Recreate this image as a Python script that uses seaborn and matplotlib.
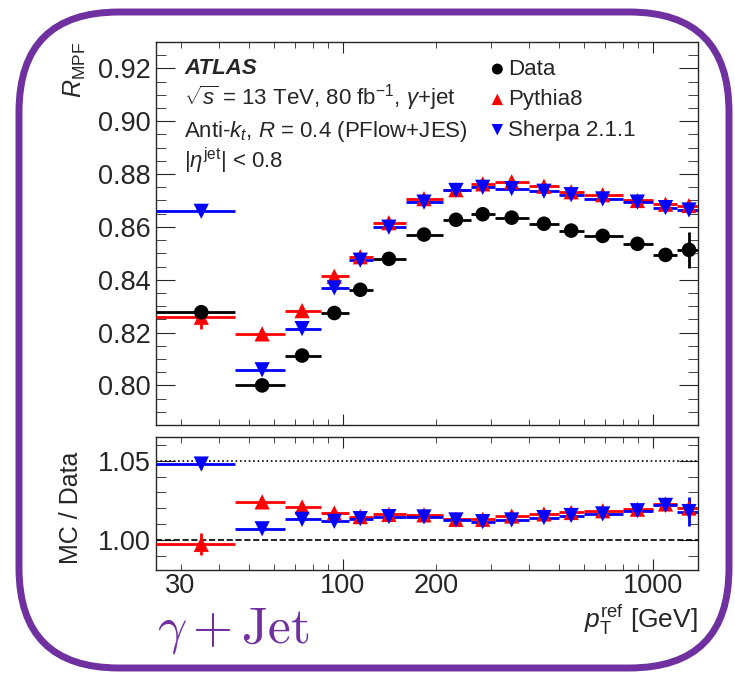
import numpy as np
import pandas as pd
import matplotlib
matplotlib.use("Agg")
import matplotlib.pyplot as plt
import seaborn as sns
from matplotlib.patches import FancyBboxPatch
from matplotlib.ticker import LogLocator, FuncFormatter, MultipleLocator, FormatStrFormatter

# p_T^ref bins [GeV]
bin_lo = [25, 45, 65, 85, 105, 125, 160, 210, 260, 310, 400, 500, 600, 800, 1000, 1200]
bin_hi = [45, 65, 85, 105, 125, 160, 210, 260, 310, 400, 500, 600, 800, 1000, 1200, 1400]
pt_center = [35, 55, 74, 94, 114, 141, 183, 232, 283, 351, 446, 546, 690, 893, 1100, 1310]

# R_MPF values
r_data = [0.8277, 0.8000, 0.8113, 0.8274, 0.8362, 0.8479, 0.8571, 0.8627,
          0.8648, 0.8635, 0.8612, 0.8586, 0.8566, 0.8536, 0.8494, 0.8513]
r_data_err = [0.0027, 0.0006, 0.0006, 0.0006, 0.0006, 0.0006, 0.0006, 0.0006,
              0.0006, 0.0006, 0.0006, 0.0006, 0.0008, 0.0010, 0.0015, 0.0067]
r_pythia = [0.8258, 0.8195, 0.8283, 0.8413, 0.8487, 0.8616, 0.8707, 0.8741,
            0.8763, 0.8771, 0.8754, 0.8733, 0.8722, 0.8700, 0.8686, 0.8681]
r_pythia_err = [0.0044, 0.0006, 0.0006, 0.0006, 0.0006, 0.0006, 0.0006, 0.0006,
                0.0008, 0.0008, 0.0008, 0.0008, 0.0008, 0.0008, 0.0010, 0.0012]
r_sherpa = [0.8659, 0.8059, 0.8215, 0.8369, 0.8474, 0.8599, 0.8694, 0.8738,
            0.8750, 0.8745, 0.8735, 0.8722, 0.8706, 0.8694, 0.8673, 0.8664]
r_sherpa_err = [0.0010, 0.0006, 0.0006, 0.0006, 0.0006, 0.0006, 0.0006, 0.0006,
                0.0006, 0.0006, 0.0006, 0.0006, 0.0006, 0.0008, 0.0010, 0.0012]

# MC / Data ratios
ratio_pythia = [0.9972, 1.0240, 1.0208, 1.0170, 1.0147, 1.0161, 1.0158, 1.0130,
                1.0130, 1.0151, 1.0164, 1.0173, 1.0184, 1.0194, 1.0227, 1.0201]
ratio_pythia_err = [0.0070, 0.0010, 0.0010, 0.0012, 0.0015, 0.0015, 0.0015, 0.0015,
                    0.0015, 0.0015, 0.0015, 0.0015, 0.0015, 0.0018, 0.0020, 0.0050]
ratio_sherpa = [1.0479, 1.0070, 1.0130, 1.0117, 1.0134, 1.0147, 1.0145, 1.0126,
                1.0115, 1.0126, 1.0141, 1.0154, 1.0164, 1.0184, 1.0218, 1.0179]
ratio_sherpa_err = [0.0030, 0.0010, 0.0010, 0.0012, 0.0015, 0.0015, 0.0015, 0.0015,
                    0.0015, 0.0015, 0.0015, 0.0015, 0.0015, 0.0018, 0.0020, 0.0090]

sns.set_style("ticks")
plt.rcParams["font.family"] = ["Liberation Sans", "DejaVu Sans"]
plt.rcParams["mathtext.fontset"] = "custom"
plt.rcParams["mathtext.rm"] = "Liberation Sans"
plt.rcParams["mathtext.it"] = "Liberation Sans:italic"
plt.rcParams["mathtext.bf"] = "Liberation Sans:bold"

pt = np.array(pt_center)
xerr = [pt - np.array(bin_lo), np.array(bin_hi) - pt]

df_top = pd.DataFrame({
    "pt": np.tile(pt, 3),
    "R": r_data + r_pythia + r_sherpa,
    "sample": ["Data"] * 16 + ["Pythia8"] * 16 + ["Sherpa 2.1.1"] * 16,
})
df_ratio = pd.DataFrame({
    "pt": np.tile(pt, 2),
    "ratio": ratio_pythia + ratio_sherpa,
    "sample": ["Pythia8"] * 16 + ["Sherpa 2.1.1"] * 16,
})

colors = {"Data": "black", "Pythia8": "#ff0000", "Sherpa 2.1.1": "#0000ff"}
markers = {"Data": "o", "Pythia8": "^", "Sherpa 2.1.1": "v"}
sizes = {"Data": 110, "Pythia8": 120, "Sherpa 2.1.1": 120}

fig = plt.figure(figsize=(7.35, 6.8), dpi=100)
ax1 = fig.add_axes([0.2122, 0.375, 0.7374, 0.5632])
ax2 = fig.add_axes([0.2122, 0.1618, 0.7374, 0.1956], sharex=ax1)

# top panel
top_err = {"Data": r_data_err, "Pythia8": r_pythia_err, "Sherpa 2.1.1": r_sherpa_err}
for name in ["Pythia8", "Sherpa 2.1.1", "Data"]:
    sub = df_top[df_top["sample"] == name]
    ax1.errorbar(sub["pt"], sub["R"], xerr=xerr, yerr=top_err[name], fmt="none",
                 ecolor=colors[name], elinewidth=2, capsize=0, zorder=3)
    sns.scatterplot(data=sub, x="pt", y="R", ax=ax1, color=colors[name],
                    marker=markers[name], s=sizes[name], edgecolor="none",
                    label=name, zorder=4)

# ratio panel
ratio_err = {"Pythia8": ratio_pythia_err, "Sherpa 2.1.1": ratio_sherpa_err}
for name in ["Pythia8", "Sherpa 2.1.1"]:
    sub = df_ratio[df_ratio["sample"] == name]
    ax2.errorbar(sub["pt"], sub["ratio"], xerr=xerr, yerr=ratio_err[name], fmt="none",
                 ecolor=colors[name], elinewidth=2, capsize=0, zorder=3)
    sns.scatterplot(data=sub, x="pt", y="ratio", ax=ax2, color=colors[name],
                    marker=markers[name], s=sizes[name], edgecolor="none",
                    legend=False, zorder=4)
ax2.axhline(1.05, color="black", linestyle=":", linewidth=1.2, zorder=1)
ax2.axhline(1.00, color="black", linestyle="--", linewidth=1.2, zorder=1)

# axes styling
ax1.set_xscale("log")
ax1.set_xlim(25, 1400)
ax1.set_ylim(0.785, 0.93)
ax2.set_ylim(0.981, 1.065)

for ax in (ax1, ax2):
    for sp in ax.spines.values():
        sp.set_linewidth(1.0)
    ax.xaxis.set_major_locator(LogLocator(base=10, subs=(1.0,)))
    ax.xaxis.set_minor_locator(LogLocator(base=10, subs=np.arange(2, 10)))
    ax.tick_params(axis="both", which="both", direction="in", top=True, right=True,
                   labelsize=19.5, pad=4)
    ax.tick_params(axis="y", which="major", length=14)
    ax.tick_params(axis="y", which="minor", length=7)
    ax.tick_params(axis="x", which="major", length=8)
    ax.tick_params(axis="x", which="minor", length=4)
    ax.set_xlabel("")
    ax.set_ylabel("")

ax1.yaxis.set_major_locator(MultipleLocator(0.02))
ax1.yaxis.set_minor_locator(MultipleLocator(0.005))
ax1.yaxis.set_major_formatter(FormatStrFormatter("%.2f"))
ax2.yaxis.set_major_locator(MultipleLocator(0.05))
ax2.yaxis.set_minor_locator(MultipleLocator(0.01))
ax2.yaxis.set_major_formatter(FormatStrFormatter("%.2f"))

ax1.tick_params(axis="x", which="both", labelbottom=False)
ax2.xaxis.set_major_formatter(FuncFormatter(lambda v, p: f"{v:.0f}"))
ax2.xaxis.set_minor_formatter(FuncFormatter(
    lambda v, p: f"{v:.0f}" if int(round(v)) in (30, 200) else ""))
ax2.tick_params(axis="x", which="both", labelsize=19.5, pad=2)

ax1.set_ylabel(r"$R_{\rm MPF}$", fontsize=18, loc="top")
ax1.yaxis.set_label_coords(-0.125, 1.0)
ax2.set_ylabel("MC / Data", fontsize=18)
ax2.yaxis.set_label_coords(-0.135, 0.47)
ax2.set_xlabel(r"$p_{\rm T}^{\rm ref}$ [GeV]", fontsize=19, loc="right")
ax2.xaxis.set_label_coords(1.0, -0.25)

# annotations
ax1.text(0.052, 0.916, "ATLAS", transform=ax1.transAxes, fontsize=16,
         fontweight="bold", fontstyle="italic", va="baseline")
ax1.text(0.052, 0.836, r"$\sqrt{s}$ = 13 TeV, 80 fb$^{-1}$, $\gamma$+jet",
         transform=ax1.transAxes, fontsize=16, va="baseline")
ax1.text(0.052, 0.752, r"Anti-$k_{t}$, $R$ = 0.4 (PFlow+JES)",
         transform=ax1.transAxes, fontsize=16, va="baseline")
ax1.text(0.052, 0.671, r"$|\eta^{\rm jet}|$ < 0.8",
         transform=ax1.transAxes, fontsize=16, va="baseline")

handles, labels = ax1.get_legend_handles_labels()
order = [labels.index(n) for n in ["Data", "Pythia8", "Sherpa 2.1.1"]]
ax1.legend(handles=[handles[i] for i in order], labels=[labels[i] for i in order],
           loc="upper left", bbox_to_anchor=(0.597, 0.985),
           frameon=False, fontsize=16, handlelength=0.6, handletextpad=0.2,
           borderpad=0, labelspacing=0.42, markerscale=0.75)

fig.text(157 / 735, 1 - 642 / 680, r"$\gamma + \mathrm{Jet}$", fontsize=37,
         color="#7030a0", math_fontfamily="cm", va="baseline")

border = FancyBboxPatch((0.19, 0.12), 7.10, 6.56,
                        boxstyle="round,pad=0,rounding_size=1.0",
                        transform=fig.dpi_scale_trans, fill=False,
                        edgecolor="#7030a0", linewidth=5)
fig.add_artist(border)

fig.savefig("out.png", dpi=100)
